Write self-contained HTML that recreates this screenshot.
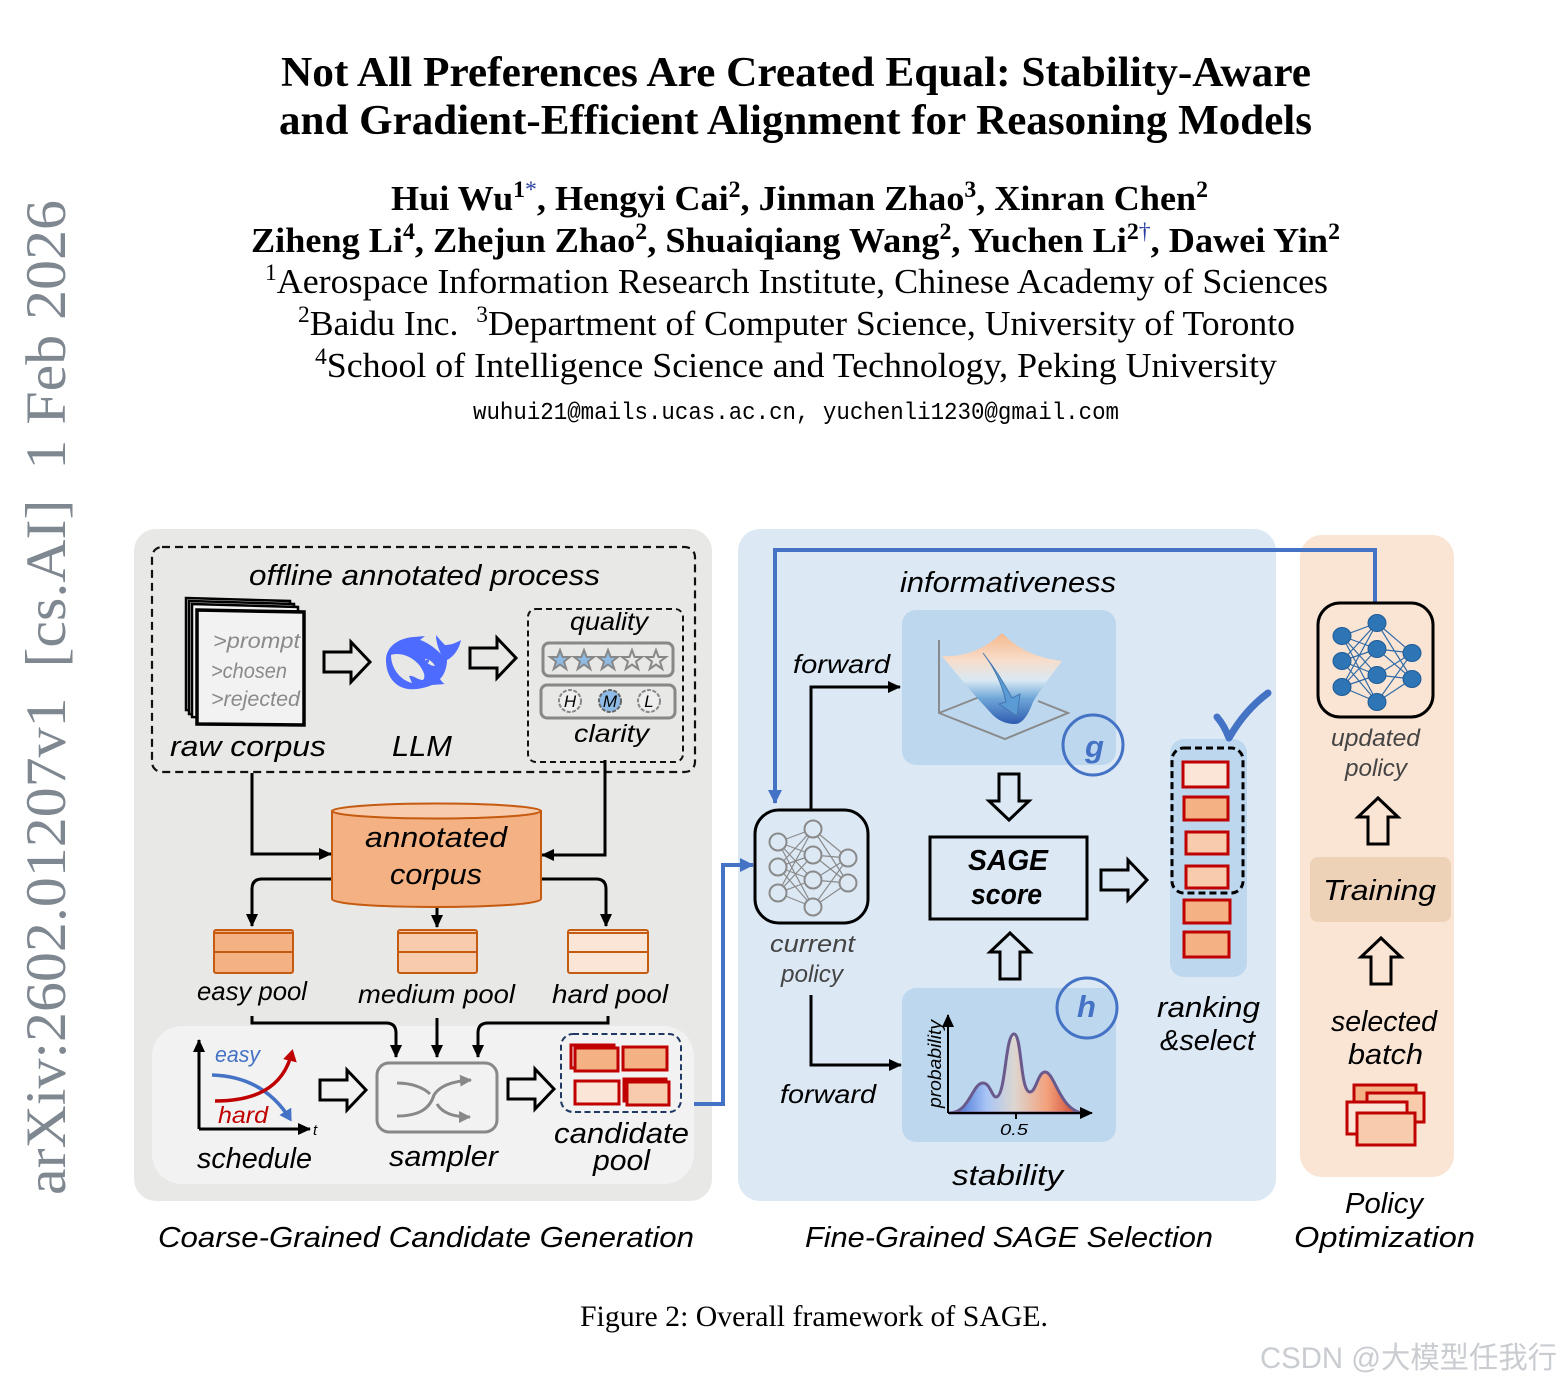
<!DOCTYPE html>
<html><head><meta charset="utf-8"><style>
html,body{margin:0;padding:0;background:#fff}
svg{display:block}
.h{font-family:"Liberation Sans",sans-serif;font-style:italic;font-size:29px;fill:#000}
.s{font-family:"Liberation Serif",serif}
</style></head><body>
<svg width="1561" height="1385" viewBox="0 0 1561 1385" xmlns="http://www.w3.org/2000/svg">
<defs>
<marker id="a" markerUnits="userSpaceOnUse" markerWidth="14" markerHeight="14" refX="12" refY="7" orient="auto"><path d="M0 1L13 7L0 13Z" fill="#000"/></marker>
<marker id="b" markerUnits="userSpaceOnUse" markerWidth="16" markerHeight="16" refX="13" refY="8" orient="auto"><path d="M0 1L14 8L0 15Z" fill="#4472c4"/></marker>
<marker id="g" markerUnits="userSpaceOnUse" markerWidth="14" markerHeight="14" refX="11" refY="7" orient="auto"><path d="M0 1L12 7L0 13Z" fill="#888"/></marker>
<marker id="bs" markerUnits="userSpaceOnUse" markerWidth="14" markerHeight="16" refX="9" refY="8" orient="auto"><path d="M0 1L12 8L0 15Z" fill="#4472c4"/></marker>
<marker id="rs" markerUnits="userSpaceOnUse" markerWidth="14" markerHeight="16" refX="9" refY="8" orient="auto"><path d="M0 1L12 8L0 15Z" fill="#c00000"/></marker>
<polygon id="ba" points="0,-10 27,-10 27,-20 46,0 27,20 27,10 0,10" fill="none" stroke="#000" stroke-width="3"/>
<linearGradient id="surf" x1="0" y1="0" x2="0" y2="1"><stop offset="0" stop-color="#f6b88c"/><stop offset=".3" stop-color="#f7ddcb"/><stop offset=".52" stop-color="#d9e9f3"/><stop offset=".72" stop-color="#6ea6d8"/><stop offset="1" stop-color="#2f5cb0"/></linearGradient>
<linearGradient id="dist" x1="0" y1="0" x2="1" y2="0"><stop offset="0" stop-color="#2f5fd0"/><stop offset=".28" stop-color="#a9c6f5"/><stop offset=".48" stop-color="#dcd6d0"/><stop offset=".72" stop-color="#f3a17c"/><stop offset="1" stop-color="#c5321f"/></linearGradient>
</defs>

<!-- header -->
<g class="s" font-family="Liberation Serif, serif">
<text x="281" y="86" textLength="1030" lengthAdjust="spacingAndGlyphs" font-size="42" font-weight="bold">Not All Preferences Are Created Equal: Stability-Aware</text>
<text x="279" y="134" textLength="1033" lengthAdjust="spacingAndGlyphs" font-size="42" font-weight="bold">and Gradient-Efficient Alignment for Reasoning Models</text>
<text x="391" y="210" textLength="817" lengthAdjust="spacingAndGlyphs" font-size="35" font-weight="bold">Hui Wu<tspan font-size="23" dy="-13">1</tspan><tspan font-size="23" fill="#2a3fa0" font-weight="normal">*</tspan><tspan dy="13">, Hengyi Cai</tspan><tspan font-size="23" dy="-13">2</tspan><tspan dy="13">, Jinman Zhao</tspan><tspan font-size="23" dy="-13">3</tspan><tspan dy="13">, Xinran Chen</tspan><tspan font-size="23" dy="-13">2</tspan></text>
<text x="251" y="252" textLength="1089" lengthAdjust="spacingAndGlyphs" font-size="35" font-weight="bold">Ziheng Li<tspan font-size="23" dy="-13">4</tspan><tspan dy="13">, Zhejun Zhao</tspan><tspan font-size="23" dy="-13">2</tspan><tspan dy="13">, Shuaiqiang Wang</tspan><tspan font-size="23" dy="-13">2</tspan><tspan dy="13">, Yuchen Li</tspan><tspan font-size="23" dy="-13">2</tspan><tspan font-size="23" fill="#2a3fa0" font-weight="normal">†</tspan><tspan dy="13">, Dawei Yin</tspan><tspan font-size="23" dy="-13">2</tspan></text>
<text x="265" y="293" textLength="1063" lengthAdjust="spacingAndGlyphs" font-size="35"><tspan font-size="23" dy="-13">1</tspan><tspan dy="13">Aerospace Information Research Institute, Chinese Academy of Sciences</tspan></text>
<text x="298" y="335" textLength="997" lengthAdjust="spacingAndGlyphs" font-size="35"><tspan font-size="23" dy="-13">2</tspan><tspan dy="13">Baidu Inc.&#160;&#160;</tspan><tspan font-size="23" dy="-13">3</tspan><tspan dy="13">Department of Computer Science, University of Toronto</tspan></text>
<text x="315" y="377" textLength="962" lengthAdjust="spacingAndGlyphs" font-size="35"><tspan font-size="23" dy="-13">4</tspan><tspan dy="13">School of Intelligence Science and Technology, Peking University</tspan></text>
<text x="580" y="1326" textLength="468" lengthAdjust="spacingAndGlyphs" font-size="30">Figure 2: Overall framework of SAGE.</text>
<text transform="translate(65,1195) rotate(-90)" textLength="995" lengthAdjust="spacingAndGlyphs" font-size="57" fill="#7f8790" xml:space="preserve">arXiv:2602.01207v1  [cs.AI]  1 Feb 2026</text>
</g>
<text x="473" y="419" textLength="646" lengthAdjust="spacingAndGlyphs" font-family="Liberation Mono, monospace" font-size="24">wuhui21@mails.ucas.ac.cn, yuchenli1230@gmail.com</text>
<text x="1260" y="1368" textLength="297" lengthAdjust="spacingAndGlyphs" font-family="Liberation Sans, Noto Sans CJK SC, sans-serif" font-size="30" fill="#c9ccd0">CSDN @大模型任我行</text>

<!-- panels -->
<rect x="134" y="529" width="578" height="672" rx="22" fill="#e8e8e6"/>
<rect x="738" y="529" width="538" height="672" rx="22" fill="#dce9f5"/>
<rect x="1300" y="535" width="154" height="642" rx="22" fill="#fae5d5"/>
<rect x="152" y="1026" width="542" height="158" rx="30" fill="#f2f2f2"/>
<rect x="152" y="547" width="543" height="225" rx="10" fill="none" stroke="#111" stroke-width="2.2" stroke-dasharray="8 5"/>
<rect x="528" y="609" width="155" height="153" rx="8" fill="none" stroke="#111" stroke-width="2" stroke-dasharray="6 4"/>

<!-- raw corpus -->
<g fill="#f2f2f2" stroke="#000" stroke-width="2.5">
<path d="M186 598L290 601L290 712L186 710Z"/><path d="M189 601L294 604L294 716L189 714Z"/><path d="M192 604L298 607L298 720L192 717Z"/>
<path d="M197 610L304 612L304 725L197 724Z" stroke-width="3.5"/></g>
<text x="213" y="648" textLength="87" lengthAdjust="spacingAndGlyphs" class="h" style="font-size:21px;fill:#8a8a8a">&gt;prompt</text>
<text x="211" y="678" textLength="76" lengthAdjust="spacingAndGlyphs" class="h" style="font-size:21px;fill:#8a8a8a">&gt;chosen</text>
<text x="211" y="706" textLength="89" lengthAdjust="spacingAndGlyphs" class="h" style="font-size:21px;fill:#8a8a8a">&gt;rejected</text>
<use href="#ba" transform="translate(324,662)"/>
<use href="#ba" transform="translate(470,658)"/>
<!-- whale -->
<path d="M386 660C386 647 398 638 414 637L425 636L420 640C427 642 435 648 441 654C438 648 436 641 436 635C440 640 443 643 445 645C451 645 456 643 461 640C459 650 453 657 447 660C447 668 444 675 440 679C442 682 444 684 445 684L432 685C425 688 416 690 408 689C394 687 386 675 386 660Z" fill="#4d6bfe"/>
<path d="M391 655C400 652 412 656 420 666C424 672 426 677 423 680C418 680 413 675 409 676L412 683C400 680 391 668 391 655Z" fill="#e8e8e6"/>
<path d="M425 659C428 658 433 662 435 666C431 666 426 663 425 659Z" fill="#e8e8e6"/>
<circle cx="427.500" cy="661" r="1.600" fill="#4d6bfe"/>
<!-- quality box -->
<rect x="543" y="643" width="130" height="33" rx="6" fill="none" stroke="#888" stroke-width="3"/>
<g stroke="#888" stroke-width="2"><g fill="#8fbce6">
<polygon points="560,650 562.6,657 570,657 564,661.500 566.300,669 560,664.500 553.700,669 556,661.500 550,657 557.400,657"/>
<polygon points="584,650 586.600,657 594,657 588,661.500 590.300,669 584,664.500 577.700,669 580,661.500 574,657 581.400,657"/>
<polygon points="608,650 610.600,657 618,657 612,661.500 614.300,669 608,664.500 601.700,669 604,661.500 598,657 605.400,657"/></g>
<g fill="none">
<polygon points="632,650 634.600,657 642,657 636,661.500 638.300,669 632,664.500 625.700,669 628,661.500 622,657 629.400,657"/>
<polygon points="656,650 658.600,657 666,657 660,661.500 662.300,669 656,664.500 649.700,669 652,661.500 646,657 653.400,657"/></g></g>
<rect x="541" y="685" width="134" height="33" rx="6" fill="none" stroke="#888" stroke-width="3"/>
<circle cx="570" cy="701" r="11" fill="#eee" stroke="#888" stroke-width="2" stroke-dasharray="4 1.500"/>
<circle cx="610" cy="701" r="11" fill="#8fbce6" stroke="#666" stroke-width="2" stroke-dasharray="4 1.500"/>
<circle cx="649" cy="701" r="11" fill="#eee" stroke="#888" stroke-width="2" stroke-dasharray="4 1.500"/>
<g class="h" text-anchor="middle">
<text x="570" y="707" style="font-size:17px">H</text><text x="610" y="707" style="font-size:17px">M</text><text x="649" y="707" style="font-size:17px">L</text></g>

<!-- left labels -->
<g class="h">
<text x="249" y="585" textLength="351" lengthAdjust="spacingAndGlyphs">offline annotated process</text>
<text x="570" y="630" textLength="78" lengthAdjust="spacingAndGlyphs" style="font-size:25px">quality</text>
<text x="574" y="742" textLength="75" lengthAdjust="spacingAndGlyphs" style="font-size:25px">clarity</text>
<text x="170" y="756" textLength="156" lengthAdjust="spacingAndGlyphs">raw corpus</text>
<text x="392" y="756" textLength="60" lengthAdjust="spacingAndGlyphs">LLM</text>
<text x="197" y="1000" textLength="110" lengthAdjust="spacingAndGlyphs" style="font-size:26px">easy pool</text>
<text x="358" y="1003" textLength="157" lengthAdjust="spacingAndGlyphs" style="font-size:26px">medium pool</text>
<text x="552" y="1003" textLength="116" lengthAdjust="spacingAndGlyphs" style="font-size:26px">hard pool</text>
<text x="197" y="1168" textLength="115" lengthAdjust="spacingAndGlyphs">schedule</text>
<text x="389" y="1166" textLength="109" lengthAdjust="spacingAndGlyphs">sampler</text>
<text x="554" y="1143" textLength="135" lengthAdjust="spacingAndGlyphs">candidate</text>
<text x="593" y="1170" textLength="57" lengthAdjust="spacingAndGlyphs">pool</text>
<text x="158" y="1247" textLength="536" lengthAdjust="spacingAndGlyphs">Coarse-Grained Candidate Generation</text>
<text x="805" y="1247" textLength="408" lengthAdjust="spacingAndGlyphs">Fine-Grained SAGE Selection</text>
<text x="1345" y="1213" textLength="78" lengthAdjust="spacingAndGlyphs">Policy</text>
<text x="1294" y="1247" textLength="181" lengthAdjust="spacingAndGlyphs">Optimization</text>
</g>

<!-- connectors -->
<g fill="none" stroke="#000" stroke-width="3">
<path d="M252 773V854H331" marker-end="url(#a)"/>
<path d="M605 760V855H542" marker-end="url(#a)"/>
<path d="M332 879H262Q252 879 252 889V926" marker-end="url(#a)"/>
<path d="M541 879H596Q606 879 606 889V926" marker-end="url(#a)"/>
<path d="M437 907V927" marker-end="url(#a)"/>
<path d="M252 1016V1023H386Q396 1023 396 1033V1057" marker-end="url(#a)"/>
<path d="M437 1018V1057" marker-end="url(#a)"/>
<path d="M608 1016V1023H488Q478 1023 478 1033V1057" marker-end="url(#a)"/>
<path d="M811 810V687H900" marker-end="url(#a)"/>
<path d="M811 995V1065H901" marker-end="url(#a)"/>
</g>

<!-- cylinder -->
<path d="M332 811V899C332 904 380 907 436 907C492 907 541 904 541 899V811Z" fill="#f4b183" stroke="#c55a11" stroke-width="2"/>
<ellipse cx="436.500" cy="811" rx="104.500" ry="7.500" fill="#f8cbad" stroke="#c55a11" stroke-width="2"/>
<text x="365" y="847" textLength="142" lengthAdjust="spacingAndGlyphs" class="h">annotated</text>
<text x="390" y="884" textLength="92" lengthAdjust="spacingAndGlyphs" class="h">corpus</text>
<!-- pools -->
<g stroke="#c55a11" stroke-width="2">
<rect x="214" y="930" width="79" height="43" rx="2" fill="#f4b183"/><path d="M214 933H293M214 952H293" fill="none"/>
<rect x="398" y="930" width="79" height="43" rx="2" fill="#f8cbad"/><path d="M398 933H477M398 952H477" fill="none"/>
<rect x="568" y="930" width="80" height="43" rx="2" fill="#fbe5d6"/><path d="M568 933H648M568 952H648" fill="none"/>
</g>
<!-- schedule -->
<g fill="none" stroke="#000" stroke-width="3">
<path d="M199 1129V1040" marker-end="url(#a)"/><path d="M199 1129H310" marker-end="url(#a)"/></g>
<path d="M212 1075C245 1076 272 1090 290 1119" fill="none" stroke="#4472c4" stroke-width="3.500" marker-end="url(#bs)"/>
<path d="M215 1101C252 1101 283 1090 292 1052" fill="none" stroke="#c00000" stroke-width="3.500" marker-end="url(#rs)"/>
<text x="215" y="1062" textLength="45" lengthAdjust="spacingAndGlyphs" class="h" style="font-size:22px;fill:#4472c4">easy</text>
<text x="218" y="1123" textLength="50" lengthAdjust="spacingAndGlyphs" class="h" style="font-size:23px;fill:#c00000">hard</text>
<text x="313" y="1135" class="h" style="font-size:15px">t</text>
<use href="#ba" transform="translate(320,1090)"/>
<!-- sampler -->
<rect x="377" y="1063" width="120" height="69" rx="12" fill="#f2f2f2" stroke="#888" stroke-width="3"/>
<g fill="none" stroke="#888" stroke-width="3">
<path d="M397 1083C412 1083 424 1088 430 1094"/>
<path d="M397 1116C420 1116 430 1108 434 1095C440 1085 455 1081 471 1080" marker-end="url(#g)"/>
<path d="M437 1104C443 1114 455 1117 470 1117" marker-end="url(#g)"/></g>
<use href="#ba" transform="translate(508,1089)"/>
<!-- candidate pool -->
<rect x="561" y="1034" width="120" height="78" rx="12" fill="#f2f2f2" stroke="#1f3864" stroke-width="2" stroke-dasharray="6 3.500"/>
<g stroke="#c00000" stroke-width="3">
<rect x="571" y="1045" width="43" height="23" fill="none"/><rect x="575" y="1048" width="43" height="23" fill="#f4b183"/>
<rect x="623" y="1047" width="44" height="23" fill="#f4b183"/>
<rect x="575" y="1081" width="44" height="23" fill="#fbe5d6"/>
<rect x="624" y="1079" width="42" height="22" fill="none"/><rect x="627" y="1082" width="42" height="23" fill="#f8cbad"/>
</g>
<!-- blue connectors -->
<path d="M694 1104H723V865H753" fill="none" stroke="#4472c4" stroke-width="4" marker-end="url(#b)"/>
<path d="M1375 603V550H775V803" fill="none" stroke="#4472c4" stroke-width="4" marker-end="url(#b)"/>

<!-- current policy -->
<rect x="755" y="810" width="113" height="113" rx="24" fill="#dce9f5" stroke="#000" stroke-width="3"/>
<path d="M778 842L813 829M778 842L813 855M778 842L813 880M778 842L813 907M778 867L813 829M778 867L813 855M778 867L813 880M778 867L813 907M778 893L813 829M778 893L813 855M778 893L813 880M778 893L813 907M813 829L848 858M813 829L848 883M813 855L848 858M813 855L848 883M813 880L848 858M813 880L848 883M813 907L848 858M813 907L848 883" stroke="#8a8a8a" stroke-width="1.200" fill="none"/>
<g fill="#dce9f5" stroke="#8a8a8a" stroke-width="2">
<circle cx="778" cy="842" r="8.500"/><circle cx="778" cy="867" r="8.500"/><circle cx="778" cy="893" r="8.500"/>
<circle cx="813" cy="829" r="8.500"/><circle cx="813" cy="855" r="8.500"/><circle cx="813" cy="880" r="8.500"/><circle cx="813" cy="907" r="8.500"/>
<circle cx="848" cy="858" r="8.500"/><circle cx="848" cy="883" r="8.500"/></g>
<text x="770" y="952" textLength="85" lengthAdjust="spacingAndGlyphs" class="h" style="font-size:24px;fill:#444">current</text>
<text x="781" y="982" textLength="62" lengthAdjust="spacingAndGlyphs" class="h" style="font-size:24px;fill:#444">policy</text>
<text x="793" y="673" textLength="97" lengthAdjust="spacingAndGlyphs" class="h" style="font-size:26px">forward</text>
<text x="780" y="1103" textLength="96" lengthAdjust="spacingAndGlyphs" class="h" style="font-size:26px">forward</text>
<text x="900" y="592" textLength="216" lengthAdjust="spacingAndGlyphs" class="h">informativeness</text>
<!-- informativeness tile -->
<rect x="902" y="610" width="214" height="155" rx="14" fill="#bdd7ee"/>
<path d="M939 640V713L1005 739L1068 713L1038 701M982 696L939 713" fill="none" stroke="#8a8a8a" stroke-width="2"/>
<path d="M942 656Q975 658 1002 633Q1025 657 1062 661Q1040 690 1033 702Q1025 724 1015 724Q1000 724 990 712Q965 685 942 656Z" fill="url(#surf)"/>
<path d="M983 653Q1000 675 1012 698L1020 694L1017 716L999 704L1006 702Q1000 675 983 653Z" fill="#5b9bd5" stroke="#4478b0" stroke-width="1"/>
<circle cx="1093" cy="745" r="30" fill="none" stroke="#4472c4" stroke-width="3"/>
<text x="1085" y="757" class="h" style="font-size:31px;fill:#4472c4;font-weight:bold">g</text>
<use href="#ba" transform="translate(1009,774) rotate(90)"/>
<!-- SAGE -->
<rect x="930" y="837" width="157" height="82" fill="none" stroke="#000" stroke-width="3"/>
<text x="968" y="870" textLength="80" lengthAdjust="spacingAndGlyphs" class="h" style="font-weight:bold">SAGE</text>
<text x="971" y="904" textLength="71" lengthAdjust="spacingAndGlyphs" class="h" style="font-weight:bold">score</text>
<use href="#ba" transform="translate(1010,979) rotate(-90)"/>
<use href="#ba" transform="translate(1101,880)"/>
<!-- stability tile -->
<rect x="902" y="988" width="214" height="154" rx="14" fill="#bdd7ee"/>
<path d="M949 1113C970 1113 972 1083 983 1083C990 1083 992 1097 996 1097C1006 1097 1005 1034 1014 1034C1022 1034 1020 1092 1030 1092C1036 1092 1038 1072 1045 1072C1055 1072 1060 1113 1085 1113Z" fill="url(#dist)" stroke="#6a5a8c" stroke-width="3"/>
<g fill="none" stroke="#000" stroke-width="2"><path d="M948 1113V1015" marker-end="url(#a)"/><path d="M948 1113H1092" marker-end="url(#a)"/><path d="M1016 1113V1119"/></g>
<text transform="translate(941,1108) rotate(-90)" textLength="88" lengthAdjust="spacingAndGlyphs" class="h" style="font-size:18px">probability</text>
<text x="1000" y="1135" textLength="28" lengthAdjust="spacingAndGlyphs" class="h" style="font-size:16px">0.5</text>
<circle cx="1087" cy="1008" r="30" fill="none" stroke="#4472c4" stroke-width="3"/>
<text x="1077" y="1017" class="h" style="font-size:31px;fill:#4472c4;font-weight:bold">h</text>
<text x="952" y="1185" textLength="111" lengthAdjust="spacingAndGlyphs" class="h">stability</text>
<!-- ranking -->
<rect x="1170" y="739" width="77" height="238" rx="14" fill="#bdd7ee"/>
<g stroke="#c00000" stroke-width="3">
<rect x="1183" y="762" width="45" height="25" fill="#fbe5d6"/>
<rect x="1184" y="797" width="44" height="23" fill="#f4b183"/>
<rect x="1186" y="832" width="42" height="22" fill="#f8cbad"/>
<rect x="1186" y="866" width="42" height="22" fill="#f8cbad"/>
<rect x="1184" y="900" width="46" height="23" fill="#f4b183"/>
<rect x="1184" y="932" width="45" height="25" fill="#f4b183"/></g>
<rect x="1172" y="748" width="71" height="145" rx="12" fill="none" stroke="#000" stroke-width="3" stroke-dasharray="7 4"/>
<path d="M1217 717Q1224 725 1229 738Q1245 710 1268 693" fill="none" stroke="#4472c4" stroke-width="7" stroke-linecap="round" stroke-linejoin="round"/>
<text x="1157" y="1017" textLength="103" lengthAdjust="spacingAndGlyphs" class="h">ranking</text>
<text x="1160" y="1050" textLength="95" lengthAdjust="spacingAndGlyphs" class="h">&amp;select</text>
<!-- updated policy -->
<rect x="1318" y="603" width="115" height="114" rx="22" fill="none" stroke="#000" stroke-width="3"/>
<path d="M1342 636L1377 623M1342 636L1377 649M1342 636L1377 675M1342 636L1377 702M1342 661L1377 623M1342 661L1377 649M1342 661L1377 675M1342 661L1377 702M1342 687L1377 623M1342 687L1377 649M1342 687L1377 675M1342 687L1377 702M1377 623L1412 653M1377 623L1412 679M1377 649L1412 653M1377 649L1412 679M1377 675L1412 653M1377 675L1412 679M1377 702L1412 653M1377 702L1412 679" stroke="#2f6aa6" stroke-width="1.200" fill="none"/>
<g fill="#2e75b6" stroke="#1f5c96" stroke-width="1">
<ellipse cx="1342" cy="636" rx="9" ry="8.500"/><ellipse cx="1342" cy="661" rx="9" ry="8.500"/><ellipse cx="1342" cy="687" rx="9" ry="8.500"/>
<ellipse cx="1377" cy="623" rx="9" ry="8.500"/><ellipse cx="1377" cy="649" rx="9" ry="8.500"/><ellipse cx="1377" cy="675" rx="9" ry="8.500"/><ellipse cx="1377" cy="702" rx="9" ry="8.500"/>
<ellipse cx="1412" cy="653" rx="9" ry="8.500"/><ellipse cx="1412" cy="679" rx="9" ry="8.500"/></g>
<text x="1331" y="746" textLength="89" lengthAdjust="spacingAndGlyphs" class="h" style="font-size:24px;fill:#444">updated</text>
<text x="1345" y="776" textLength="62" lengthAdjust="spacingAndGlyphs" class="h" style="font-size:24px;fill:#444">policy</text>
<use href="#ba" transform="translate(1378,844) rotate(-90)"/>
<rect x="1310" y="857" width="141" height="65" rx="8" fill="#eed2b8"/>
<text x="1323" y="900" textLength="113" lengthAdjust="spacingAndGlyphs" class="h">Training</text>
<use href="#ba" transform="translate(1381,984) rotate(-90)"/>
<text x="1331" y="1031" textLength="106" lengthAdjust="spacingAndGlyphs" class="h">selected</text>
<text x="1348" y="1064" textLength="75" lengthAdjust="spacingAndGlyphs" class="h">batch</text>
<g stroke="#c00000" stroke-width="3">
<rect x="1354" y="1085" width="62" height="32" fill="#f4b183"/>
<rect x="1367" y="1093" width="57" height="29" fill="#f8cbad"/>
<rect x="1347" y="1102" width="60" height="32" fill="#fbe5d6"/>
<rect x="1357" y="1113" width="58" height="32" fill="#f8cbad"/></g>
</svg>
</body></html>
